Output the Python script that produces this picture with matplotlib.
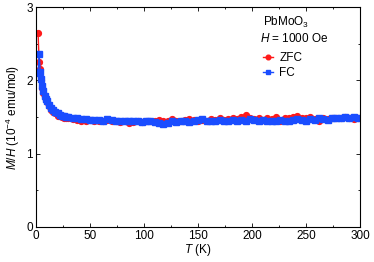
import matplotlib
matplotlib.use("Agg")
import matplotlib.pyplot as plt
from matplotlib.ticker import MultipleLocator

# temperatures (K)
T_low = [2, 3, 4, 5, 6, 7, 8, 9, 10, 12, 14, 16, 18, 20, 22, 24, 26, 28]
T_high = [30, 34, 38, 42, 46, 50, 54, 58, 62, 66,
          70, 74, 78, 82, 86, 90, 94, 98, 102, 106,
          110, 114, 118, 122, 126, 130, 134, 138, 142, 146,
          150, 154, 158, 162, 166, 170, 174, 178, 182, 186,
          190, 194, 198, 202, 206, 210, 214, 218, 222, 226,
          230, 234, 238, 242, 246, 250, 254, 258, 262, 266,
          270, 274, 278, 282, 286, 290, 294, 298]
T = T_low + T_high

# M/H in 1e-4 emu/mol
zfc = [2.65, 2.25, 2.15, 2.0, 1.9, 1.83, 1.77, 1.73, 1.7, 1.65, 1.6, 1.57, 1.55, 1.52, 1.51, 1.5, 1.49, 1.48,
       1.48, 1.47, 1.46, 1.44, 1.45, 1.46, 1.45, 1.44, 1.45, 1.46,
       1.44, 1.45, 1.43, 1.44, 1.42, 1.43, 1.44, 1.43, 1.44, 1.45,
       1.44, 1.46, 1.45, 1.44, 1.47, 1.45, 1.44, 1.46, 1.47, 1.46,
       1.45, 1.46, 1.44, 1.47, 1.46, 1.48, 1.46, 1.47, 1.48, 1.47,
       1.50, 1.53, 1.49, 1.47, 1.48, 1.46, 1.49, 1.47, 1.50, 1.44,
       1.48, 1.49, 1.50, 1.52, 1.49, 1.48, 1.50, 1.47, 1.45, 1.48,
       1.47, 1.49, 1.48, 1.49, 1.50, 1.48, 1.47, 1.48]
fc = [2.1, 2.36, 2.12, 2.02, 1.92, 1.85, 1.79, 1.75, 1.72, 1.67, 1.62, 1.6, 1.57, 1.55, 1.53, 1.52, 1.51, 1.5,
      1.50, 1.49, 1.48, 1.47, 1.47, 1.46, 1.46, 1.46, 1.45, 1.47,
      1.46, 1.45, 1.44, 1.45, 1.44, 1.45, 1.44, 1.43, 1.44, 1.45,
      1.43, 1.42, 1.40, 1.42, 1.44, 1.43, 1.45, 1.44, 1.43, 1.45,
      1.46, 1.47, 1.44, 1.45, 1.44, 1.46, 1.45, 1.44, 1.46, 1.45,
      1.46, 1.45, 1.47, 1.46, 1.45, 1.46, 1.45, 1.44, 1.45, 1.46,
      1.44, 1.45, 1.46, 1.47, 1.46, 1.45, 1.47, 1.46, 1.48, 1.47,
      1.46, 1.48, 1.49, 1.48, 1.50, 1.49, 1.50, 1.49]

plt.rcParams['font.family'] = ['Liberation Sans', 'DejaVu Sans']
plt.rcParams['mathtext.fontset'] = 'custom'
plt.rcParams['mathtext.rm'] = 'Liberation Sans'
plt.rcParams['mathtext.it'] = 'Liberation Sans:italic'

fig = plt.figure(figsize=(3.74, 2.62), dpi=100)
ax = fig.add_axes([0.096, 0.134, 0.867, 0.839])

ax.plot(T, zfc, '-o', color='#ff1a1a', ms=4.2, lw=1.0, label='ZFC')
ax.plot(T, fc, '-s', color='#1a4dff', ms=4.2, lw=1.0, label='FC')

ax.set_xlim(0, 300)
ax.set_ylim(0, 3)
ax.xaxis.set_major_locator(MultipleLocator(50))
ax.xaxis.set_minor_locator(MultipleLocator(25))
ax.yaxis.set_major_locator(MultipleLocator(1))
ax.yaxis.set_minor_locator(MultipleLocator(0.5))
ax.tick_params(which='both', direction='in', top=True, right=True, labelsize=8.5, pad=2)
ax.tick_params(which='major', length=3, width=0.6)
ax.tick_params(which='minor', length=1.5, width=0.6)
for s in ax.spines.values():
    s.set_linewidth(0.8)

ax.set_xlabel('$T$ (K)', fontsize=8.5, labelpad=0)
ax.set_ylabel('$M/H$ (10$^{-4}$ emu/mol)', fontsize=8.5, labelpad=3)

ax.text(0.70, 0.93, 'PbMoO$_3$', transform=ax.transAxes, fontsize=8.5, va='center')
ax.text(0.69, 0.855, '$H$ = 1000 Oe', transform=ax.transAxes, fontsize=8.5, va='center')
ax.legend(loc='upper left', bbox_to_anchor=(0.685, 0.815), frameon=False, fontsize=8.5,
          handlelength=0.9, handletextpad=0.5, labelspacing=0.25, borderaxespad=0, markerscale=0.8)

fig.savefig('out.png', dpi=100)
